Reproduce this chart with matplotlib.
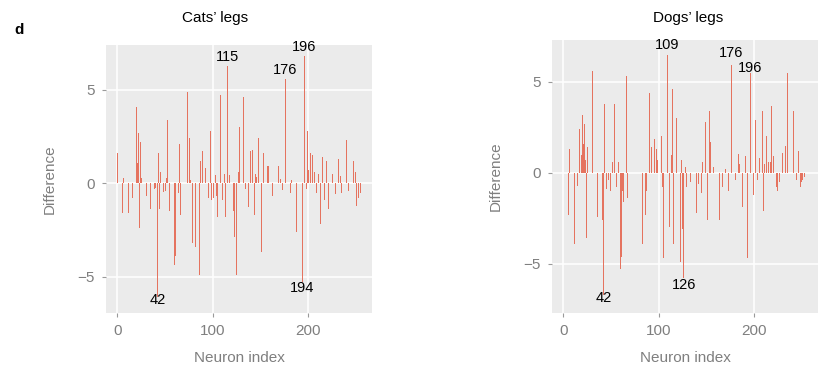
import matplotlib
matplotlib.use("Agg")
import matplotlib.pyplot as plt

plt.rcParams['font.family'] = ['Liberation Sans', 'DejaVu Sans']

# ---------------- data ----------------
cats_idx = [0, 5, 6, 12, 16, 20, 21, 22, 23, 24, 25, 30, 35, 39, 40, 42, 43, 44, 45, 48,
            50, 51, 52, 53, 55, 60, 61, 64, 65, 66, 73, 76, 77, 79, 82, 86, 87, 89, 92, 96,
            98, 99, 101, 103, 104, 105, 108, 110, 112, 113, 115, 118, 122, 123, 125, 127, 128,
            132, 134, 137, 140, 142, 144, 145, 146, 148, 151, 153, 157, 158, 163, 169, 171,
            173, 176, 182, 183, 188, 194, 196, 198, 199, 200, 202, 203, 205, 207, 209, 211,
            213, 215, 217, 219, 221, 224, 226, 229, 232, 234, 235, 240, 242, 246, 248, 250,
            251, 253, 255]
cats_val = [1.6, -1.6, 0.3, -1.6, -0.8, 4.1, 1.1, 2.7, -2.4, 2.2, 0.3, -0.7, -1.4, -0.3, -0.25,
            -6.1, 1.6, -1.4, 0.6, -0.45, -0.4, 0.3, 5.1, 3.4, -1.5, -4.4, -3.9, -0.5, 2.1, -1.7,
            4.9, 2.4, 0.15, -3.2, -3.4, -4.9, 1.2, 1.7, 0.8, -0.8, 2.8, -0.9, -0.8, 0.45, -0.7,
            -1.8, 4.7, -0.9, 0.5, -1.8, 6.25, 0.45, -1.5, -2.9, -4.9, 0.6, 3.0, 4.6, -0.3, -1.3,
            1.7, 1.8, -1.7, 0.5, 0.35, 2.4, -3.7, 1.6, 0.9, 0.9, -0.7, 0.9, 0.2, -0.35, 5.6,
            -0.5, 0.15, -2.6, -5.3, 6.8, -0.3, 2.8, 0.7, 1.6, 1.3, 1.5, 0.6, -0.5, 0.5, -2.2,
            1.4, -0.9, 1.2, -1.4, 1.0, 0.5, -0.6, 1.3, 0.4, -0.5, 2.3, -0.4, 1.0, 1.2, 0.6,
            -1.2, -0.8, -0.5]

dogs_idx = [5, 6, 12, 15, 17, 19, 20, 21, 22, 23, 24, 25, 30, 31, 36, 41, 42, 43, 45, 47,
            49, 51, 54, 56, 58, 60, 61, 62, 63, 66, 67, 74, 83, 86, 87, 90, 92, 96, 98, 99,
            103, 104, 105, 109, 111, 113, 114, 115, 117, 119, 123, 124, 125, 126, 128, 129,
            133, 138, 140, 142, 145, 146, 149, 151, 153, 154, 157, 164, 167, 170, 173, 176,
            180, 184, 185, 188, 191, 193, 196, 199, 201, 204, 206, 209, 210, 211, 213, 215,
            217, 218, 220, 223, 224, 225, 227, 230, 233, 235, 241, 244, 247, 249, 250, 251, 253]
dogs_val = [-2.3, 1.3, -3.9, -0.7, 2.4, 1.0, 3.2, 1.6, 2.7, 0.7, -3.6, 1.4, 5.6, 1.5, -2.4,
            -2.6, -6.7, 3.8, -0.9, -0.4, -1.0, 0.6, 3.8, -0.8, 0.6, -5.3, -4.6, -1.0, -1.6, 5.3,
            -1.4, 0.9, -3.9, -2.3, -1.0, 4.4, 1.4, 1.85, 1.3, 0.7, 2.0, -0.8, -4.7, 6.5, -3.0,
            1.0, 4.6, -3.9, 0.5, 3.0, -4.9, 0.7, -3.1, -5.8, 0.3, -0.8, -0.5, -1.3, -2.2, -0.6,
            -1.1, 0.6, 2.8, -2.6, 3.4, 1.7, 0.3, -2.6, -0.8, 0.2, -1.0, 5.9, -0.4, 1.05, 0.5,
            -1.9, 0.9, -4.7, 5.5, -1.2, 2.9, -0.4, 0.8, 3.4, -2.1, 0.5, 2.0, 0.6, 0.6, 3.7,
            0.9, -0.8, 0.8, -1.0, -0.5, 1.1, 1.5, 5.5, 3.4, -0.4, 1.2, -0.8, -0.5, -0.4, -0.2]

cats_labels = [115, 176, 196, 42, 194]
dogs_labels = [109, 176, 196, 42, 126]

titles = ["Cats\u2019 legs", "Dogs\u2019 legs"]
xticks = [0, 100, 200]
yticks = [-5, 0, 5]

# ---------------- style ----------------
BAR = '#e5735f'
GREY_TXT = '#7f7f7f'
BG = '#ebebeb'

fig = plt.figure(figsize=(8.32, 3.76), dpi=100)

panels = [
    dict(rect=[106/832, 63/376, 266/832, 268/376], idx=cats_idx, val=cats_val, labels=cats_labels,
         ylim=(-6.95, 7.4), offs={115: 6.5, 176: 6, 196: 6.5, 42: -2, 194: -4},
         title_x=215/832),
    dict(rect=[552/832, 63/376, 266/832, 273/376], idx=dogs_idx, val=dogs_val, labels=dogs_labels,
         ylim=(-7.7, 7.3), offs={109: 7, 176: 9, 196: 3.5, 42: -2, 126: -4.5},
         title_x=688/832),
]

for p, title in zip(panels, titles):
    ax = fig.add_axes(p['rect'])
    ax.set_facecolor(BG)
    for s in ax.spines.values():
        s.set_visible(False)
    ax.grid(True, color='white', linewidth=1.1)
    ax.set_axisbelow(True)
    ax.bar(p['idx'], p['val'], width=1.0, color=BAR, linewidth=0)
    ax.set_xlim(-12, 267)
    ax.set_ylim(*p['ylim'])
    ax.set_xticks(xticks)
    ax.set_yticks(yticks)
    ax.set_yticklabels(['\u22125', '0', '5'])
    ax.tick_params(colors='#9a9a9a', labelcolor=GREY_TXT, labelsize=11, length=3, width=0.8,
                   pad=5)
    ax.set_xlabel('Neuron index', color=GREY_TXT, fontsize=11, labelpad=9)
    ax.set_ylabel('Difference', color=GREY_TXT, fontsize=11, labelpad=15)
    vals = dict(zip(p['idx'], p['val']))
    for lab in p['labels']:
        v = vals[lab]
        off = p['offs'][lab]
        ax.annotate(str(lab), xy=(lab, v), xytext=(0, off), textcoords='offset points',
                    ha='center', va='center', fontsize=10.5, color='black')
    fig.text(p['title_x'], 1 - 18/376, title, ha='center', va='center', fontsize=11, color='black')

fig.text(14/832, 1 - 30/376, 'd', fontsize=11, fontweight='bold', ha='left', va='center')

fig.savefig('out.png', dpi=100)
